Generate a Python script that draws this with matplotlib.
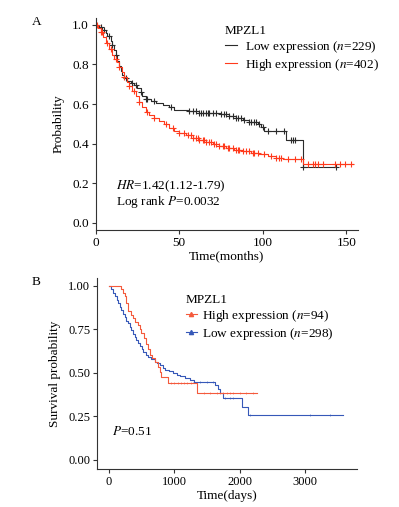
import matplotlib
matplotlib.use("Agg")
import matplotlib.pyplot as plt
from matplotlib.lines import Line2D
import numpy as np

plt.rcParams["font.family"] = ["Liberation Serif", "DejaVu Serif"]
plt.rcParams["mathtext.fontset"] = "stix"

# ---- panel A: months ----
a_low_t = [0, 2, 4, 6, 7, 9, 10, 11, 12, 13, 14, 15, 16, 17, 19, 21, 23, 25, 27, 28, 30, 33, 36, 40, 44,
           47, 55, 62, 75, 80, 84, 88, 92, 97, 99, 101, 114, 124]
a_low_s = [1.0, 0.99, 0.975, 0.96, 0.945, 0.92, 0.9, 0.875, 0.85, 0.82, 0.79, 0.765, 0.745, 0.73, 0.715,
           0.705, 0.695, 0.68, 0.66, 0.64, 0.625, 0.615, 0.605, 0.595, 0.585, 0.57, 0.565, 0.555, 0.548,
           0.54, 0.53, 0.52, 0.51, 0.5, 0.485, 0.465, 0.42, 0.28]
a_low_end = 144
a_low_cens = [3, 5, 8, 10, 12, 18, 22, 24, 27, 30, 31, 35, 45, 56, 58, 60, 62, 63, 64, 66, 67, 68, 70, 72,
              75, 77, 78, 80, 82, 84, 85, 87, 89, 92, 93, 95, 96, 98, 100, 103, 108, 113, 117, 118, 119,
              124, 144]

a_high_t = [0, 1.5, 3, 4.5, 6, 8, 9.5, 11, 12.5, 14, 15.5, 17, 18.5, 20, 22, 24, 26, 28, 30, 32, 35, 38,
            41, 44, 47, 50, 54, 58, 62, 66, 70, 74, 78, 83, 88, 93, 98, 103, 108, 112, 124]
a_high_s = [1.0, 0.985, 0.965, 0.94, 0.91, 0.88, 0.85, 0.83, 0.81, 0.785, 0.76, 0.735, 0.71, 0.69, 0.665,
            0.64, 0.61, 0.585, 0.56, 0.545, 0.53, 0.515, 0.5, 0.48, 0.465, 0.455, 0.445, 0.43, 0.42,
            0.41, 0.4, 0.39, 0.38, 0.37, 0.36, 0.35, 0.345, 0.335, 0.325, 0.32, 0.295]
a_high_end = 154
a_high_cens = [1, 3, 4, 7, 9, 12, 14, 17, 20, 23, 26, 31, 35, 42, 46, 50, 53, 55, 57, 58, 60, 61, 62, 64,
               65, 66, 68, 69, 71, 72, 74, 76, 77, 79, 80, 82, 84, 85, 86, 88, 90, 92, 94, 95, 97, 101,
               105, 108, 110, 111, 115, 119, 123, 127, 130, 131, 133, 136, 143, 146, 149, 153]

# ---- panel B: days ----
b_high_t = [0, 190, 215, 241, 267, 292, 330, 368, 405, 445, 470, 497, 535, 573, 600, 624, 660, 701, 752,
            777, 800, 905, 1350]
b_high_s = [1.0, 0.98, 0.96, 0.94, 0.9, 0.855, 0.835, 0.815, 0.795, 0.775, 0.75, 0.73, 0.7, 0.665, 0.635,
            0.605, 0.585, 0.565, 0.535, 0.505, 0.475, 0.445, 0.383]
b_high_end = 2270
b_high_cens = [950, 1000, 1050, 1100, 1150, 1200, 1250, 1450, 1550, 1650, 1700, 1750, 1800, 1850, 1900,
               2000, 2100, 2200]

b_low_t = [0, 30, 61, 90, 115, 138, 165, 190, 215, 240, 265, 292, 315, 340, 368, 395, 420, 445, 470, 500,
           525, 560, 600, 650, 700, 740, 777, 820, 854, 920, 982, 1040, 1084, 1160, 1238, 1300, 1621,
           1672, 1700, 1749, 2030, 2132]
b_low_s = [1.0, 0.985, 0.96, 0.94, 0.92, 0.9, 0.88, 0.86, 0.84, 0.82, 0.8, 0.785, 0.765, 0.745, 0.725,
           0.705, 0.69, 0.67, 0.655, 0.635, 0.62, 0.605, 0.59, 0.58, 0.565, 0.555, 0.545, 0.53, 0.515,
           0.51, 0.5, 0.49, 0.48, 0.47, 0.46, 0.45, 0.43, 0.41, 0.383, 0.354, 0.306, 0.258]
b_low_end = 3590
b_low_cens = [1300, 1400, 1500, 1600, 1780, 1850, 1900, 2160, 3078, 3385]

RED_A = "#ff3a1c"
DARK_A = "#2b2b2b"
RED_B = "#f45a3c"
BLUE_B = "#3658b8"


def km(ax, t, s, end, cens, color, ms, mew):
    t = np.asarray(t, float)
    s = np.asarray(s, float)
    tt = np.append(t, end)
    ss = np.append(s, s[-1])
    ax.step(tt, ss, where="post", color=color, lw=0.8)
    cens = np.asarray(cens, float)
    cy = s[np.searchsorted(t, cens, side="right") - 1]
    ax.plot(cens, cy, ls="none", marker="+", color=color, ms=ms, mew=mew)


fig = plt.figure(figsize=(3.99, 5.07), dpi=100)
W, H = 399, 507

def px_axes(x0, y0, x1, y1):
    return fig.add_axes([x0 / W, 1 - y1 / H, (x1 - x0) / W, (y1 - y0) / H])

# panel A
axA = px_axes(95.7, 18, 358, 230)
km(axA, a_low_t, a_low_s, a_low_end, a_low_cens, DARK_A, 5, 0.8)
km(axA, a_high_t, a_high_s, a_high_end, a_high_cens, RED_A, 5, 0.8)
axA.set_xlim(0, 157)
axA.set_ylim(-0.037, 1.035)
axA.set_xticks([0, 50, 100, 150])
axA.set_yticks([0, 0.2, 0.4, 0.6, 0.8, 1.0])
axA.set_yticklabels(["0.0", "0.2", "0.4", "0.6", "0.8", "1.0"])
for sp in ["top", "right"]:
    axA.spines[sp].set_visible(False)
for sp in ["left", "bottom"]:
    axA.spines[sp].set_linewidth(0.8)
    axA.spines[sp].set_color("#333333")
axA.tick_params(labelsize=9.5, length=3, width=0.8, color="#333333", pad=2)
axA.set_xlabel("Time(months)", fontsize=9.5, labelpad=1)
axA.set_ylabel("Probability", fontsize=9.5, labelpad=5)
hA = [Line2D([], [], color=DARK_A, lw=0.8), Line2D([], [], color=RED_A, lw=0.8)]
legA = axA.legend(hA, [r"Low expression ($\mathit{n}$=229)", r"High expression ($\mathit{n}$=402)"],
                  title="MPZL1", loc="upper left", bbox_to_anchor=(225 / W, 1 - 25 / H),
                  bbox_transform=fig.transFigure, frameon=False, fontsize=9.5, title_fontsize=9.5,
                  handlelength=0.9, handletextpad=0.6, labelspacing=0.15, borderpad=0,
                  borderaxespad=0, alignment="left")
fig.text(115.7 / W, 1 - 186.7 / H, r"$\mathit{HR}$=1.42(1.12-1.79)", fontsize=9.5, va="center")
fig.text(115.7 / W, 1 - 201.7 / H, r"Log rank $\mathit{P}$=0.0032", fontsize=9.5, va="center")
fig.text(32 / W, 1 - 21.7 / H, "A", fontsize=9.5, va="center")

# panel B
axB = px_axes(97.3, 278, 356.7, 469.3)
km(axB, b_low_t, b_low_s, b_low_end, b_low_cens, BLUE_B, 2, 0.4)
km(axB, b_high_t, b_high_s, b_high_end, b_high_cens, RED_B, 2, 0.4)
axB.set_xlim(-180, 3794)
axB.set_ylim(-0.054, 1.046)
axB.set_xticks([0, 1000, 2000, 3000])
axB.set_yticks([0, 0.25, 0.5, 0.75, 1.0])
axB.set_yticklabels(["0.00", "0.25", "0.50", "0.75", "1.00"])
for sp in ["top", "right"]:
    axB.spines[sp].set_visible(False)
for sp in ["left", "bottom"]:
    axB.spines[sp].set_linewidth(0.8)
    axB.spines[sp].set_color("#333333")
axB.tick_params(labelsize=9, length=3, width=0.8, color="#333333", pad=2)
axB.set_xlabel("Time(days)", fontsize=9.5, labelpad=1)
axB.set_ylabel("Survival probability", fontsize=9.5, labelpad=5)
hB = [Line2D([], [], color=RED_B, lw=0.8, marker="^", ms=3),
      Line2D([], [], color=BLUE_B, lw=0.8, marker="^", ms=3)]
legB = axB.legend(hB, [r"High expression ($\mathit{n}$=94)", r"Low expression ($\mathit{n}$=298)"],
                  title="MPZL1", loc="upper left", bbox_to_anchor=(186 / W, 1 - 294 / H),
                  bbox_transform=fig.transFigure, frameon=False, fontsize=9.5, title_fontsize=9.5,
                  handlelength=0.8, handletextpad=0.4, labelspacing=0.15, borderpad=0,
                  borderaxespad=0, alignment="left")
fig.text(111.7 / W, 1 - 431.7 / H, r"$\mathit{P}$=0.51", fontsize=9.5, va="center")
fig.text(32 / W, 1 - 281.7 / H, "B", fontsize=9.5, va="center")

fig.savefig("out.png", dpi=100)
